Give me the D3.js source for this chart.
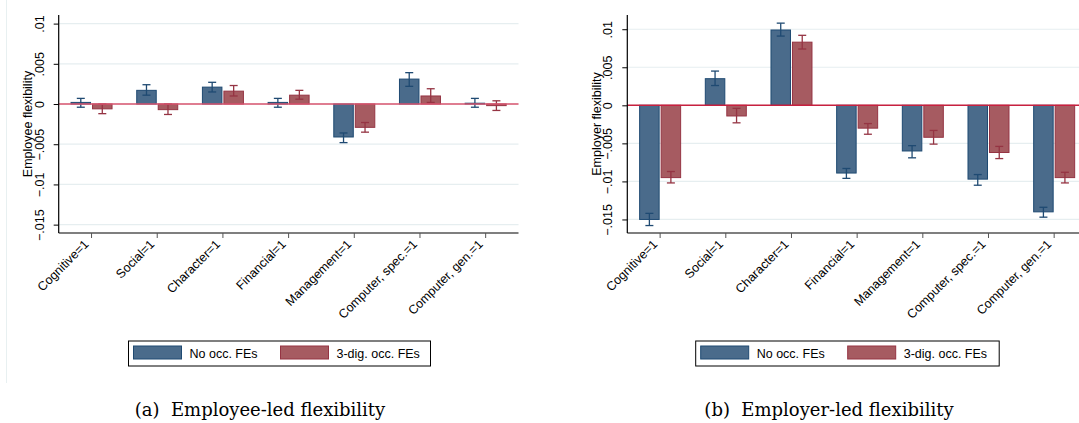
<!DOCTYPE html>
<html>
<head>
<meta charset="utf-8">
<script src="https://cdn.jsdelivr.net/npm/d3@7"></script>
<style>
  body { margin: 0; background: #fff; }
  svg { display: block; }
  .axis text { font-family: "Liberation Sans", Arial, sans-serif; }
</style>
</head>
<body>
<svg width="1079" height="423"></svg>
<script>
// categories and series
var categories = ["Cognitive=1", "Social=1", "Character=1", "Financial=1", "Management=1", "Computer, spec.=1", "Computer, gen.=1"];
var seriesNames = ["No occ. FEs", "3-dig. occ. FEs"];
var yTicks = [0.01, 0.005, 0, -0.005, -0.01, -0.015];

// panel (a) employee-led: estimate, lower CI, upper CI
var empNoFE     = [0.0002, 0.0017, 0.0021, 0.0002, -0.0041, 0.0031, 0.0001];
var empNoFELo   = [-0.0004, 0.0011, 0.0015, -0.0004, -0.0048, 0.0022, -0.0004];
var empNoFEHi   = [0.0007, 0.0024, 0.0027, 0.0007, -0.0036, 0.0039, 0.0007];
var empOccFE    = [-0.0006, -0.0007, 0.0016, 0.0011, -0.0029, 0.0010, -0.0002];
var empOccFELo  = [-0.0012, -0.0013, 0.0010, 0.0006, -0.0035, 0.0002, -0.0008];
var empOccFEHi  = [0.0000, 0.0000, 0.0023, 0.0017, -0.0023, 0.0019, 0.0004];

// panel (b) employer-led
var emprNoFE    = [-0.0150, 0.0035, 0.0099, -0.0089, -0.0060, -0.0097, -0.0140];
var emprNoFELo  = [-0.0158, 0.0026, 0.0091, -0.0096, -0.0069, -0.0105, -0.0147];
var emprNoFEHi  = [-0.0142, 0.0045, 0.0108, -0.0083, -0.0053, -0.0091, -0.0134];
var emprOccFE   = [-0.0095, -0.0014, 0.0083, -0.0030, -0.0042, -0.0062, -0.0095];
var emprOccFELo = [-0.0102, -0.0023, 0.0074, -0.0038, -0.0051, -0.0070, -0.0102];
var emprOccFEHi = [-0.0087, -0.0004, 0.0092, -0.0024, -0.0033, -0.0054, -0.0088];

var fills = ["#4a6b8b", "#a65b61"];
var strokes = ["#1f4a72", "#953443"];

var svg = d3.select("svg");

function fmt(v) {
  if (v === 0) return "0";
  return d3.format(".3~f")(v).replace("0.", ".");
}

function buildRows(est, lo, hi) {
  return categories.map(function(c, i) {
    return { cat: c, est: est[i], lo: lo[i], hi: hi[i] };
  });
}

function drawPanel(opt) {
  var g = svg.append("g");

  var x = d3.scaleBand().domain(categories).range([opt.left, opt.right]);
  var y = d3.scaleLinear().domain(opt.yDomain).range([opt.bottom, opt.top]);

  // grid lines
  g.selectAll(".grid").data(yTicks).enter().append("line")
    .attr("x1", opt.left).attr("x2", opt.right)
    .attr("y1", function(d) { return y(d); }).attr("y2", function(d) { return y(d); })
    .attr("stroke", "#e6eef0").attr("stroke-width", 1.2);

  var bw = 19.5;
  opt.series.forEach(function(rows, s) {
    var off = s === 0 ? -bw - 1 : 1;
    var sg = g.append("g");
    sg.selectAll("rect").data(rows).enter().append("rect")
      .attr("x", function(d) { return x(d.cat) + x.bandwidth() / 2 + off; })
      .attr("width", bw)
      .attr("y", function(d) { return y(Math.max(0, d.est)); })
      .attr("height", function(d) { return Math.abs(y(d.est) - y(0)); })
      .attr("fill", fills[s])
      .attr("stroke", strokes[s])
      .attr("stroke-width", 1);

    var eb = sg.selectAll(".eb").data(rows).enter().append("g")
      .attr("stroke", strokes[s]).attr("stroke-width", 1.3);
    var cx = function(d) { return x(d.cat) + x.bandwidth() / 2 + off + bw / 2; };
    eb.append("line")
      .attr("x1", cx).attr("x2", cx)
      .attr("y1", function(d) { return y(d.lo); })
      .attr("y2", function(d) { return y(d.hi); });
    [function(d) { return y(d.lo); }, function(d) { return y(d.hi); }].forEach(function(fy) {
      eb.append("line")
        .attr("x1", function(d) { return cx(d) - 4; })
        .attr("x2", function(d) { return cx(d) + 4; })
        .attr("y1", fy).attr("y2", fy);
    });
  });

  // zero line
  g.append("line")
    .attr("x1", opt.left).attr("x2", opt.right)
    .attr("y1", y(0)).attr("y2", y(0))
    .attr("stroke", opt.zeroColor).attr("stroke-width", 1.4);

  // y axis
  var ya = g.append("g").attr("class", "axis")
    .attr("transform", "translate(" + opt.left + ",0)")
    .call(d3.axisLeft(y).tickValues(yTicks).tickFormat(fmt).tickSize(5).tickPadding(4));
  ya.select(".domain").attr("d", "M0," + opt.top + "V" + opt.bottom).attr("stroke", "#000").attr("stroke-width", 1.2);
  ya.selectAll(".tick line").attr("stroke", "#000");
  ya.selectAll(".tick text")
    .attr("font-size", "12.5px").attr("fill", "#000")
    .attr("text-anchor", "middle")
    .attr("x", 0).attr("dy", 0)
    .attr("transform", "translate(-15,0) rotate(-90)");

  // x axis
  var xa = g.append("g").attr("class", "axis")
    .attr("transform", "translate(0," + opt.bottom + ")")
    .call(d3.axisBottom(x).tickSize(5).tickSizeOuter(0));
  xa.select(".domain").attr("d", "M" + opt.left + ",0H" + opt.right).attr("stroke", "#000").attr("stroke-width", 1.2);
  xa.selectAll(".tick line").attr("stroke", "#555");
  xa.selectAll(".tick text")
    .attr("font-size", "12.5px").attr("fill", "#000")
    .attr("text-anchor", "end")
    .attr("x", 0).attr("y", 0).attr("dy", 0)
    .attr("transform", "translate(-2,12) rotate(-45)");

  // y title
  g.append("text")
    .attr("transform", "translate(" + opt.titleX + "," + ((opt.top + opt.bottom) / 2) + ") rotate(-90)")
    .attr("text-anchor", "middle")
    .attr("font-family", "Liberation Sans, Arial, sans-serif")
    .attr("font-size", "12.5px")
    .text(opt.yTitle);

  // legend
  var lg = g.append("g").attr("transform", "translate(" + opt.legendX + ",341)");
  lg.append("rect").attr("width", opt.legendW).attr("height", 25)
    .attr("fill", "#fff").attr("stroke", "#000").attr("stroke-width", 1);
  seriesNames.forEach(function(n, i) {
    var ox = 5 + i * 147;
    lg.append("rect").attr("x", ox).attr("y", 5).attr("width", 48).attr("height", 13)
      .attr("fill", fills[i]).attr("stroke", strokes[i]);
    lg.append("text").attr("x", ox + 56).attr("y", 17)
      .attr("font-family", "Liberation Sans, Arial, sans-serif")
      .attr("font-size", "12.5px").text(n);
  });

  // caption
  svg.append("text")
    .attr("x", opt.captionX).attr("y", 416)
    .attr("text-anchor", "middle")
    .attr("font-family", "'DejaVu Serif', serif")
    .attr("font-size", "18px")
    .attr("xml:space", "preserve")
    .text(opt.caption);
}

// faint border of panel (a)
svg.append("line").attr("x1", 6.5).attr("x2", 6.5).attr("y1", 0).attr("y2", 383)
  .attr("stroke", "#e8f0f1").attr("stroke-width", 1);

drawPanel({
  left: 58.7, right: 518.5, top: 15, bottom: 233,
  yDomain: [-0.01604, 0.01107],
  series: [buildRows(empNoFE, empNoFELo, empNoFEHi), buildRows(empOccFE, empOccFELo, empOccFEHi)],
  zeroColor: "#d9546f",
  yTitle: "Employee flexibility", titleX: 32,
  legendX: 128.5, legendW: 302,
  caption: "(a)  Employee-led flexibility", captionX: 260
});

drawPanel({
  left: 627.3, right: 1087, top: 15, bottom: 233,
  yDomain: [-0.01678, 0.01187],
  series: [buildRows(emprNoFE, emprNoFELo, emprNoFEHi), buildRows(emprOccFE, emprOccFELo, emprOccFEHi)],
  zeroColor: "#c8203f",
  yTitle: "Employer flexibility", titleX: 601,
  legendX: 695.7, legendW: 303.5,
  caption: "(b)  Employer-led flexibility", captionX: 829
});
</script>
</body>
</html>
